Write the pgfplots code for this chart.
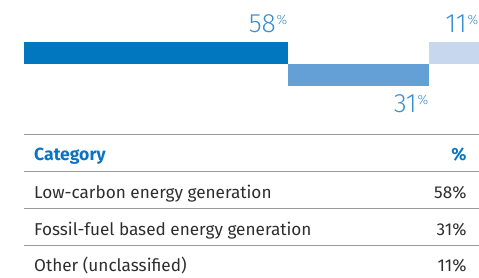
\documentclass[border=0pt]{standalone}
\usepackage{pgfplots}
\pgfplotsset{compat=1.18}
\usepackage{fontspec}
\setmainfont{Fira Sans}
\newfontfamily\lightfont{Fira Sans Light}
\definecolor{b1}{HTML}{0077BF}
\definecolor{b2}{HTML}{64A0D6}
\definecolor{b3}{HTML}{C6D7EE}
\definecolor{numc}{HTML}{3A8FD0}
\definecolor{hdr}{HTML}{0A74C2}
\definecolor{txt}{HTML}{2E2E2E}
\definecolor{rulec}{HTML}{9A9A9A}
\newcommand{\bignum}[1]{{\fontsize{26.5}{26.5}\lightfont\color{numc}#1\hspace{0.8pt}\raisebox{8.6pt}{\fontsize{13.5}{13.5}\selectfont\%}}}
\newcommand{\rowfont}{\fontsize{17.2}{17.2}\selectfont}
\begin{document}
\begin{tikzpicture}
\begin{axis}[width=479pt,height=278pt,scale only axis,
  xmin=-5.275,xmax=100,ymin=0,ymax=278,y dir=reverse,
  hide axis, clip=false]
\path (axis cs:-5.275,0) rectangle (axis cs:100,278);
% bars (share in %)
\addplot[fill=b1,draw=none] coordinates {(0,42) (58,42) (58,64) (0,64)} -- cycle;
\addplot[fill=b2,draw=none] coordinates {(58,64) (89,64) (89,86) (58,86)} -- cycle;
\addplot[fill=b3,draw=none] coordinates {(89,42) (100,42) (100,64) (89,64)} -- cycle;
% table rules
\addplot[rulec,line width=1pt] coordinates {(0,134.5) (100,134.5)};
\addplot[rulec,line width=1pt] coordinates {(0,171.5) (100,171.5)};
\addplot[rulec,line width=1pt] coordinates {(0,209) (100,209)};
\addplot[rulec,line width=1pt] coordinates {(0,246) (100,246)};
% value labels
\node[anchor=base east,inner sep=0pt] at (axis cs:58,33) {\bignum{58}};
\node[anchor=base east,inner sep=0pt] at (axis cs:89,113) {\bignum{31}};
\node[anchor=base east,inner sep=0pt] at (axis cs:100,33) {\bignum{11}};
% table text
\node[anchor=base west,inner sep=0pt] at (axis cs:2.2,161) {\fontsize{17.6}{17.6}\selectfont\bfseries\color{hdr}Category};
\node[anchor=base east,inner sep=0pt] at (axis cs:97.4,161) {\fontsize{17.6}{17.6}\selectfont\bfseries\color{hdr}\%};
\node[anchor=base west,inner sep=0pt] at (axis cs:2.2,199) {\rowfont\color{txt}Low-carbon energy generation};
\node[anchor=base east,inner sep=0pt] at (axis cs:97.4,199) {\rowfont\color{txt}58\%};
\node[anchor=base west,inner sep=0pt] at (axis cs:2.2,236) {\rowfont\color{txt}Fossil-fuel based energy generation};
\node[anchor=base east,inner sep=0pt] at (axis cs:97.4,236) {\rowfont\color{txt}31\%};
\node[anchor=base west,inner sep=0pt] at (axis cs:2.2,272) {\rowfont\color{txt}Other (unclassified)};
\node[anchor=base east,inner sep=0pt] at (axis cs:97.4,272) {\rowfont\color{txt}11\%};
\end{axis}
\end{tikzpicture}
\end{document}
